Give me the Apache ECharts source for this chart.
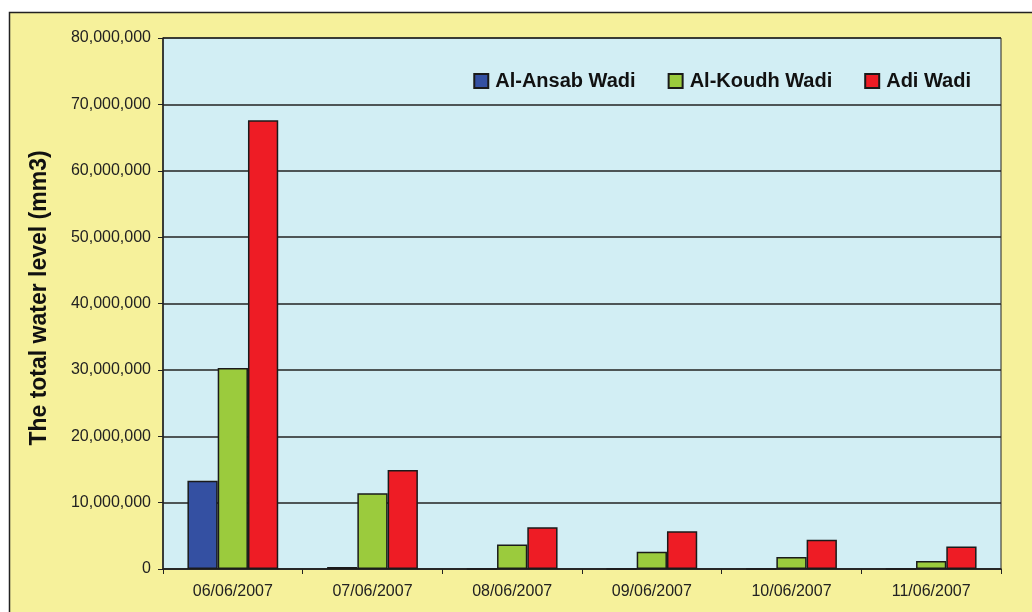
<!DOCTYPE html>
<html>
<head>
<meta charset="utf-8">
<script src="https://cdn.jsdelivr.net/npm/echarts@6/dist/echarts.min.js"></script>
<style>
  html, body { margin: 0; padding: 0; background: #fff; }
  #main { width: 1032px; height: 612px; }
</style>
</head>
<body>
<div id="main"></div>
<script>
// dates on the x axis
var dates = ['06/06/2007', '07/06/2007', '08/06/2007', '09/06/2007', '10/06/2007', '11/06/2007'];
// total water level per wadi (mm3)
var ansab = [13300000, 300000, 0, 0, 0, 0];
var koudh = [30300000, 11400000, 3700000, 2600000, 1800000, 1200000];
var adi = [67600000, 14900000, 6300000, 5700000, 4400000, 3400000];

var myChart = echarts.init(document.getElementById('main'));

function fmt(v) {
    return v.toString().replace(/\B(?=(\d{3})+(?!\d))/g, ',');
}

function bar(name, data, color) {
    return {
        name: name,
        type: 'bar',
        data: data,
        barGap: 0,
        barCategoryGap: '35%',
        itemStyle: { color: color, borderColor: '#1a1a1a', borderWidth: 1.5 }
    };
}

var option = {
    backgroundColor: '#fff',
    textStyle: { fontFamily: 'Liberation Sans, Arial, sans-serif' },
    graphic: [
        {
            type: 'rect', z: -10,
            shape: { x: 9.5, y: 12.5, width: 1040, height: 620 },
            style: { fill: '#f6f19b', stroke: '#222', lineWidth: 1.5 }
        },
        {
            type: 'text',
            x: 40, y: 298,
            rotation: Math.PI / 2,
            style: {
                text: 'The total water level (mm3)',
                fontSize: 23, fontWeight: 'bold', fill: '#111',
                align: 'center', verticalAlign: 'middle',
                fontFamily: 'Liberation Sans, Arial, sans-serif'
            }
        }
    ],
    grid: {
        left: 163, top: 38, right: 31, bottom: 43,
        show: true, backgroundColor: '#d2eef4',
        borderColor: '#222', borderWidth: 1
    },
    legend: {
        top: 66, right: 56,
        itemWidth: 14, itemHeight: 14, itemGap: 32,
        icon: 'rect',
        textStyle: { fontSize: 20, fontWeight: 'bold', color: '#111', padding: [0, 0, 0, 2] }
    },
    xAxis: {
        type: 'category',
        data: dates,
        axisLine: { lineStyle: { color: '#222', width: 1.5 } },
        axisTick: { show: true, length: 5, lineStyle: { color: '#222' } },
        axisLabel: { fontSize: 16, color: '#222', margin: 15 }
    },
    yAxis: {
        type: 'value',
        min: 0, max: 80000000, interval: 10000000,
        axisLine: { show: true, lineStyle: { color: '#222', width: 1.5 } },
        axisTick: { show: true, length: 5, lineStyle: { color: '#222' } },
        axisLabel: { fontSize: 16, color: '#222', margin: 12, formatter: fmt },
        splitLine: { lineStyle: { color: '#222', width: 1.5 } }
    },
    series: [
        bar('Al-Ansab Wadi', ansab, '#3450a2'),
        bar('Al-Koudh Wadi', koudh, '#9bcb3d'),
        bar('Adi Wadi', adi, '#ee1c25')
    ]
};

myChart.setOption(option);
</script>
</body>
</html>
